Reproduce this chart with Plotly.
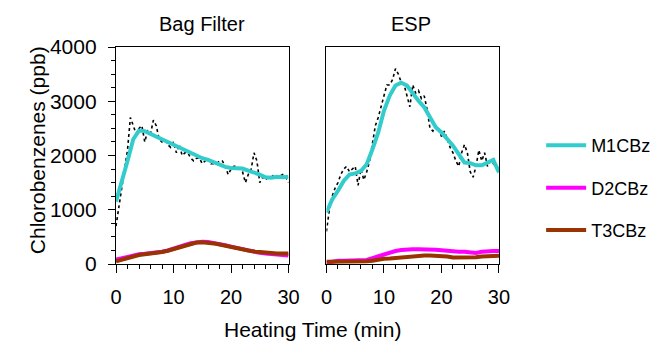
import plotly.graph_objects as go
from plotly.subplots import make_subplots

minutes = list(range(0, 31))
raw_minutes = [i * 0.5 for i in range(61)]

panel_titles = ["Bag Filter", "ESP"]
series_names = ["M1CBz", "D2CBz", "T3CBz"]
series_colors = ["#33CCCC", "#FF00FF", "#993300"]

# Bag Filter - smoothed
bag_m1 = [1150, 1500, 1900, 2300, 2460, 2450, 2400, 2350, 2300, 2230, 2190, 2150, 2090, 2040,
          1990, 1950, 1920, 1880, 1840, 1790, 1770, 1770, 1760, 1720, 1690, 1650, 1600, 1590,
          1610, 1600, 1610]
bag_d2 = [80, 105, 135, 160, 178, 188, 196, 210, 227, 250, 278, 315, 350, 385, 405, 410, 405,
          390, 370, 345, 320, 295, 270, 245, 225, 205, 192, 182, 175, 165, 155]
bag_t3 = [50, 80, 115, 145, 165, 180, 190, 200, 220, 245, 275, 310, 345, 375, 395, 400, 395,
          380, 360, 335, 310, 290, 270, 250, 232, 220, 210, 200, 195, 195, 195]
# Bag Filter - raw M1CBz
bag_m1_raw = [700, 1050, 1400, 1800, 2100, 2700, 2550, 2400, 2500, 2550, 2250, 2450, 2400, 2650,
              2550, 2300, 2250, 2280, 2200, 2150, 2250, 2050, 2200, 2000, 2050, 2050, 1950, 1900,
              1950, 1950, 1850, 1900, 1950, 1850, 1850, 1850, 1900, 1900, 1800, 1650, 1750, 1800,
              1800, 1750, 1700, 1500, 1650, 1750, 2050, 1900, 1500, 1600, 1550, 1600, 1600, 1650,
              1600, 1620, 1650, 1600, 1500]

# ESP - smoothed
esp_m1 = [950, 1190, 1350, 1530, 1650, 1670, 1715, 1840, 2115, 2425, 2825, 3105, 3290, 3340,
          3290, 3135, 3010, 2890, 2705, 2520, 2425, 2300, 2180, 2025, 1870, 1860, 1820, 1820,
          1880, 1920, 1690]
esp_d2 = [20, 40, 60, 60, 60, 60, 62, 75, 110, 145, 185, 215, 240, 258, 270, 272, 272, 272, 270,
          262, 252, 240, 230, 228, 226, 215, 205, 225, 238, 240, 240]
esp_t3 = [40, 40, 40, 40, 42, 45, 48, 52, 60, 80, 95, 100, 108, 125, 140, 150, 155, 155, 155,
          155, 155, 140, 120, 118, 118, 118, 125, 140, 148, 150, 150]
# ESP - raw M1CBz
esp_m1_raw = [600, 1000, 1250, 1400, 1500, 1650, 1750, 1800, 1700, 1750, 1800, 1450, 1750, 1550,
              1700, 1900, 2200, 2550, 2700, 2900, 3150, 3300, 3300, 3400, 3600, 3500, 3350, 3300,
              3100, 2900, 3300, 3150, 3200, 3050, 3100, 2850, 2500, 2450, 2550, 2500, 2350, 2450,
              2300, 2150, 2050, 1900, 1800, 2050, 2200, 2050, 1700, 1600, 1800, 2100, 1900, 2050,
              1800, 1900, 1850, 1800, 1750]

panels = [
    (bag_m1_raw, [bag_m1, bag_d2, bag_t3]),
    (esp_m1_raw, [esp_m1, esp_d2, esp_t3]),
]

y_ticks = [0, 1000, 2000, 3000, 4000]
x_ticks = [0, 10, 20, 30]

FONT = "Liberation Sans, Arial, sans-serif"

fig = make_subplots(rows=1, cols=2, shared_yaxes=True, horizontal_spacing=0.099)

for col, (raw, smooth) in enumerate(panels, start=1):
    fig.add_trace(go.Scatter(x=raw_minutes, y=raw, mode="lines",
                             line=dict(color="black", width=1.6, dash="dot"),
                             showlegend=False, hoverinfo="skip"), row=1, col=col)
    for name, color, vals in zip(series_names, series_colors, smooth):
        fig.add_trace(go.Scatter(x=minutes, y=vals, mode="lines", name=name,
                                 legendgroup=name, showlegend=(col == 1),
                                 line=dict(color=color, width=4)), row=1, col=col)

axis_common = dict(showline=True, linecolor="black", linewidth=1.3, mirror=True,
                   showgrid=False, zeroline=False, ticks="outside", tickcolor="black",
                   tickwidth=1.3)

fig.update_xaxes(range=[0, 30], tickvals=x_ticks, ticklen=8, ticklabelstandoff=7,
                 tickfont=dict(family=FONT, size=20, color="black"),
                 minor=dict(dtick=2, ticklen=4, ticks="outside", tickcolor="black", tickwidth=1.3),
                 **axis_common)
fig.update_yaxes(range=[0, 4000], **axis_common)
fig.update_yaxes(tickvals=y_ticks, ticklen=7, ticklabelstandoff=7,
                 tickfont=dict(family=FONT, size=21, color="black"),
                 minor=dict(dtick=250, ticklen=4, ticks="outside", tickcolor="black", tickwidth=1.3),
                 row=1, col=1)
fig.update_yaxes(ticks="", showticklabels=False, row=1, col=2)

# page body has an 8px default margin, so the figure is 8px smaller and margins shifted
fig.update_layout(
    width=656, height=335,
    margin=dict(l=108, r=165, t=39, b=79, autoexpand=False),
    plot_bgcolor="white", paper_bgcolor="white",
    font=dict(family=FONT, color="black"),
    showlegend=True,
    legend=dict(x=1.11, y=0.35, xanchor="left", yanchor="middle",
                font=dict(family=FONT, size=18, color="black"),
                tracegroupgap=16, itemwidth=40, bgcolor="rgba(0,0,0,0)"),
    annotations=[
        dict(text=panel_titles[0], x=0.2245, y=1.106, xref="paper", yref="paper",
             showarrow=False, font=dict(family=FONT, size=20, color="black"),
             xanchor="center", yanchor="middle"),
        dict(text=panel_titles[1], x=0.7715, y=1.106, xref="paper", yref="paper",
             showarrow=False, font=dict(family=FONT, size=20, color="black"),
             xanchor="center", yanchor="middle"),
        dict(text="Heating Time (min)", x=0.512, y=-0.304, xref="paper", yref="paper",
             showarrow=False, font=dict(family=FONT, size=21, color="black"),
             xanchor="center", yanchor="middle"),
        dict(text="Chlorobenzenes (ppb)", x=-0.206, y=0.525, xref="paper", yref="paper",
             showarrow=False, textangle=-90, font=dict(family=FONT, size=21, color="black"),
             xanchor="center", yanchor="middle"),
    ],
)

fig.write_html("out.html")
